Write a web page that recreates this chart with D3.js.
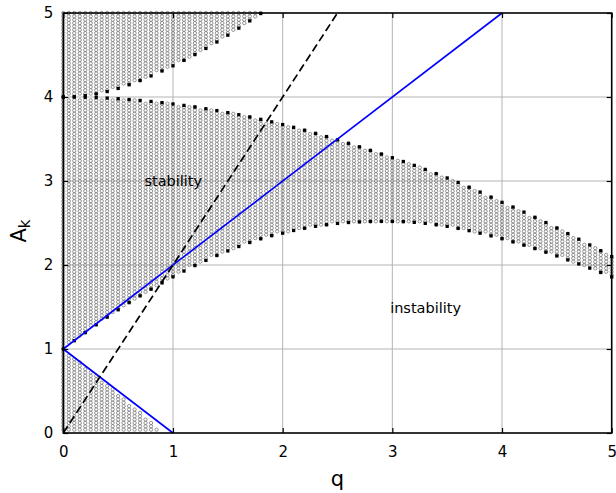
<!DOCTYPE html>
<html>
<head>
<meta charset="utf-8">
<script src="https://cdn.jsdelivr.net/npm/d3@7"></script>
<style>
  body { margin: 0; background: #fff; }
  svg { display: block; font-family: "DejaVu Sans", sans-serif; }
</style>
</head>
<body>
<svg id="chart" width="616" height="493"></svg>
<script>
// Boundary samples of the stability chart at q = 0, 0.1, ... 5.
const qBound = [0.0, 0.1, 0.2, 0.3, 0.4, 0.5, 0.6, 0.7, 0.8, 0.9,
                1.0, 1.1, 1.2, 1.3, 1.4, 1.5, 1.6, 1.7, 1.8, 1.9,
                2.0, 2.1, 2.2, 2.3, 2.4, 2.5, 2.6, 2.7, 2.8, 2.9,
                3.0, 3.1, 3.2, 3.3, 3.4, 3.5, 3.6, 3.7, 3.8, 3.9,
                4.0, 4.1, 4.2, 4.3, 4.4, 4.5, 4.6, 4.7, 4.8, 4.9, 5.0];

// lower edge of the middle stable band
const a1Vals = [1.000, 1.099, 1.195, 1.288, 1.379, 1.467, 1.552, 1.633, 1.712, 1.787,
                1.859, 1.928, 1.993, 2.055, 2.113, 2.168, 2.220, 2.268, 2.312, 2.349,
                2.379, 2.411, 2.438, 2.461, 2.480, 2.495, 2.506, 2.513, 2.518, 2.520,
                2.519, 2.516, 2.508, 2.496, 2.480, 2.460, 2.436, 2.409, 2.379, 2.347,
                2.313, 2.276, 2.237, 2.196, 2.153, 2.108, 2.061, 2.013, 1.963, 1.911, 1.858];

// upper edge of the middle stable band
const b2Vals = [4.000, 3.999, 3.997, 3.993, 3.987, 3.979, 3.970, 3.959, 3.947, 3.933,
                3.917, 3.900, 3.881, 3.860, 3.838, 3.814, 3.789, 3.762, 3.734, 3.704,
                3.672, 3.639, 3.604, 3.567, 3.529, 3.490, 3.449, 3.407, 3.364, 3.320,
                3.277, 3.232, 3.186, 3.138, 3.088, 3.036, 2.982, 2.926, 2.868, 2.808,
                2.746, 2.690, 2.630, 2.568, 2.505, 2.440, 2.374, 2.307, 2.239, 2.170, 2.100];

// lower edge of the top-left stable region (only up to where it leaves the chart)
const a2Vals = [4.000, 4.004, 4.017, 4.037, 4.065, 4.102, 4.146, 4.196, 4.251, 4.310,
                4.371, 4.436, 4.505, 4.578, 4.655, 4.736, 4.820, 4.906, 4.994, 5.084];

// upper edge of the bottom-left stable triangle
const b1Vals = [1.000, 0.899, 0.795, 0.689, 0.581, 0.471, 0.358, 0.244, 0.128, 0.010, -0.110];

// straight reference lines
const blueUp   = [[0, 1], [4, 5]];
const blueDown = [[0, 1], [1, 0]];
const dashLine = [[0, 0], [2.5, 5]];

const ticks = [0, 1, 2, 3, 4, 5];

const notes = [
  { text: 'stability',   q: 0.74, a: 3.0 },
  { text: 'instability', q: 2.98, a: 1.49 }
];

// sampling grid of the scan (open circles)
const qStep = 0.05, aStep = 0.04;

const svg = d3.select('#chart');
const x = d3.scaleLinear().domain([0, 5]).range([63.3, 611.7]);
const y = d3.scaleLinear().domain([0, 5]).range([433, 13]);

// linear lookup between the 0.1-spaced boundary samples
function edgeAt(vals, q) {
  const t = q / 0.1;
  const i = Math.floor(t + 1e-9);
  if (i >= vals.length - 1) return i === vals.length - 1 ? vals[i] : undefined;
  const f = t - i;
  return vals[i] + (vals[i + 1] - vals[i]) * f;
}

function isStable(q, a) {
  const eps = 1e-9;
  const b1 = edgeAt(b1Vals, q);
  if (b1 !== undefined && a <= b1 + eps) return true;
  if (a >= edgeAt(a1Vals, q) - eps && a <= edgeAt(b2Vals, q) + eps) return true;
  const a2 = edgeAt(a2Vals, q);
  if (a2 !== undefined && a >= a2 - eps) return true;
  return q === 0;
}

// Grid lines.
const grid = svg.append('g').attr('stroke', '#b4b4b4').attr('stroke-width', 1);
ticks.slice(1, -1).forEach(t => {
  grid.append('line').attr('x1', x(t)).attr('x2', x(t)).attr('y1', y(0)).attr('y2', y(5));
  grid.append('line').attr('x1', x(0)).attr('x2', x(5)).attr('y1', y(t)).attr('y2', y(t));
});

// Scan points: open circles wherever the sample is stable.
const pts = [];
for (let j = 0; j <= Math.round(5 / qStep); j++) {
  const q = +(j * qStep).toFixed(4);
  for (let k = 1; k <= Math.round(5 / aStep); k++) {
    const a = +(k * aStep).toFixed(4);
    if (isStable(q, a)) pts.push([q, a]);
  }
}
svg.append('g')
  .selectAll('circle')
  .data(pts)
  .join('circle')
  .attr('cx', d => x(d[0]))
  .attr('cy', d => y(d[1]))
  .attr('r', 1.65)
  .attr('fill', 'none')
  .attr('stroke', '#787878')
  .attr('stroke-width', 0.8);

// Boundary markers: small black squares.
const marks = [];
qBound.forEach((q, i) => {
  marks.push([q, a1Vals[i]]);
  marks.push([q, b2Vals[i]]);
  if (i < a2Vals.length && a2Vals[i] <= 5) marks.push([q, a2Vals[i]]);
});
const sq = 3.3;
svg.append('g')
  .selectAll('rect')
  .data(marks)
  .join('rect')
  .attr('x', d => x(d[0]) - sq / 2)
  .attr('y', d => y(d[1]) - sq / 2)
  .attr('width', sq)
  .attr('height', sq)
  .attr('fill', '#000');

// Reference lines.
const line = d3.line().x(d => x(d[0])).y(d => y(d[1]));
[blueUp, blueDown].forEach(seg => {
  svg.append('path')
    .attr('d', line(seg))
    .attr('fill', 'none')
    .attr('stroke', '#0000ff')
    .attr('stroke-width', 1.6);
});
svg.append('path')
  .attr('d', line(dashLine))
  .attr('fill', 'none')
  .attr('stroke', '#000')
  .attr('stroke-width', 1.7)
  .attr('stroke-dasharray', '8,4');

// Axes with inward ticks on all four sides.
const fmt = d3.format('d');
svg.append('g')
  .attr('transform', `translate(0, ${y(0)})`)
  .call(d3.axisBottom(x).tickValues(ticks).tickFormat(fmt).tickSize(-5).tickPadding(13));
svg.append('g')
  .attr('transform', `translate(${x(0)}, 0)`)
  .call(d3.axisLeft(y).tickValues(ticks).tickFormat(fmt).tickSize(-5).tickPadding(10));
svg.append('g')
  .attr('transform', `translate(0, ${y(5)})`)
  .call(d3.axisTop(x).tickValues(ticks).tickFormat('').tickSize(-5));
svg.append('g')
  .attr('transform', `translate(${x(5)}, 0)`)
  .call(d3.axisRight(y).tickValues(ticks).tickFormat('').tickSize(-5));

svg.selectAll('.domain').remove();
svg.selectAll('.tick line').attr('stroke', '#000').attr('stroke-width', 1.2);
svg.selectAll('.tick text')
  .attr('fill', '#000')
  .style('font-size', '15px')
  .style('font-family', '"DejaVu Sans", sans-serif');

svg.append('rect')
  .attr('x', x(0)).attr('y', y(5))
  .attr('width', x(5) - x(0)).attr('height', y(0) - y(5))
  .attr('fill', 'none')
  .attr('stroke', '#000')
  .attr('stroke-width', 1.6);

// Annotations.
svg.append('g')
  .selectAll('text')
  .data(notes)
  .join('text')
  .attr('x', d => x(d.q))
  .attr('y', d => y(d.a))
  .attr('dy', '0.35em')
  .style('font-size', '14.5px')
  .attr('fill', '#000')
  .text(d => d.text);

// Axis titles.
svg.append('text')
  .attr('x', x(2.5))
  .attr('y', 486)
  .attr('text-anchor', 'middle')
  .style('font-size', '21px')
  .text('q');

const yt = svg.append('text')
  .attr('transform', 'translate(26, 231) rotate(-90)')
  .attr('text-anchor', 'middle')
  .style('font-size', '21px');
yt.append('tspan').text('A');
yt.append('tspan').attr('dy', 4).style('font-size', '15px').text('k');
</script>
</body>
</html>
